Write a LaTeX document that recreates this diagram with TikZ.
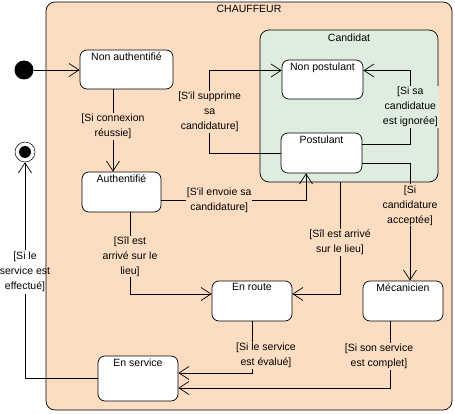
\documentclass[tikz,border=0pt]{standalone}
\usepackage{fontspec}
\setmainfont{Liberation Sans}[Ligatures=TeXOff]
\usetikzlibrary{arrows.meta}
\definecolor{peach}{RGB}{253,221,194}
\definecolor{sage}{RGB}{223,237,222}

\begin{document}
\begin{tikzpicture}[x=1pt, y=-1pt, >={Straight Barb[length=10pt,width=13pt]},
    line width=0.7pt, font=\fontsize{10.5}{15}\selectfont,
    region/.style={ draw, rounded corners=9pt, inner sep=0pt },
    state/.style={ draw, fill=white, rounded corners=7pt, inner sep=0pt },
    guard/.style={ fill=peach, align=center, inner sep=1pt } ]
  \useasboundingbox (0,0) rectangle (455,414);
  \node[region, fill=peach, minimum width=406pt, minimum height=408pt] (chauffeur) at (249,206) {};
  \node[anchor=north, inner sep=3.5pt] (chtitle) at (chauffeur.north) {CHAUFFEUR};
  \node[region, fill=sage, minimum width=178pt, minimum height=152pt] (candidat) at (349,106) {};
  \node[anchor=north, inner sep=3.5pt] (cdtitle) at (candidat.north) {Candidat};
  \foreach \n/\x/\y/\w/\h/\t in {nonauth/126.5/69.5/93/39/Non authentifié,
    auth/121.5/192/79/40/Authentifié, nonpost/322.5/79.5/81/39/Non postulant,
    post/321.5/153/81/40/Postulant, enroute/252/301/80/40/En route,
    meca/403/301/80/40/Mécanicien, enservice/138/378.5/80/45/En service}
  \node[state, minimum width=\w pt, minimum height=\h pt,
    label={[anchor=north, inner sep=2.5pt]north:\t}] (\n) at (\x,\y) {};
  \node[circle, fill=black, minimum size=19pt, inner sep=0pt] (init) at (24,70) {};
  \node[circle, draw, fill=white, line width=0.5pt, minimum size=20pt, inner sep=0pt] (final) at (25,152) {};
  \fill (final) circle (6pt);
  \node[align=center, inner sep=2pt] (effectue) at (25,272) {[Si le\\service est\\effectué]};

  \draw[->] (init) -- (init -| nonauth.west);
  \draw[->] ([xshift=-13.5pt]nonauth.south) -- node[guard, pos=0.45] {[Si connexion\\réussie]} ([xshift=-8.5pt]auth.north);
  \draw[->] ([yshift=-8pt]auth.east) -| node[guard, pos=0.2] {[S'il envoie sa\\candidature]} ([xshift=-15.5pt]post.south);
  \draw[->] (post.west) -- ++(-71,0) |- node[guard, pos=0.25] {[S'il supprime\\sa\\candidature]} ([yshift=9pt]nonpost.west);
  \draw[->] ([yshift=9pt]post.east) -- ++(48,0) |- node[guard, fill=sage, pos=0.25] {[Si sa\\candidatue\\est ignorée]} ([yshift=9pt]nonpost.east);
  \draw[->] ([yshift=-10pt]post.east) -| node[guard, pos=0.68] {[Si\\candidature\\acceptée]} ([xshift=7pt]meca.north);
  \draw[->] ([xshift=-9pt]candidat.south) |- node[guard, pos=0.27] {[Sîl est arrivé\\sur le lieu]} ([yshift=7pt]enroute.east);
  \draw[->] ([xshift=8.5pt]auth.south) |- node[guard, pos=0.27] {[Sîl est\\arrivé sur le\\lieu]} ([yshift=7pt]enroute.west);
  \draw[->] (enroute.south) |- node[guard, pos=0.33, xshift=14pt] {[Si le service\\est évalué]} ([yshift=5.5pt]enservice.east);
  \draw[->] ([xshift=-13pt]meca.south) |- node[guard, pos=0.265, xshift=-11pt] {[Si son service\\est complet]} ([yshift=-9.5pt]enservice.east);
  \draw (enservice.west) -| (effectue.south);
  \draw[->] (effectue.north) -- (final.south);
\end{tikzpicture}
\end{document}
